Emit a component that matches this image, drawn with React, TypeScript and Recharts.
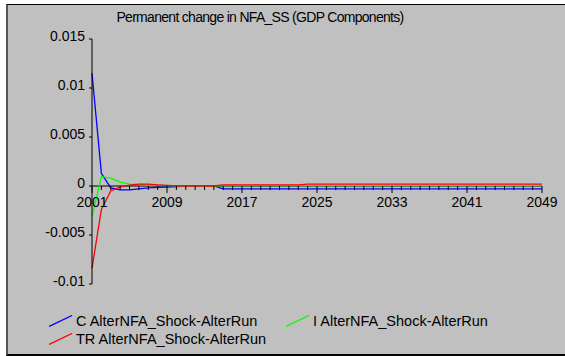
import { LineChart, Line, XAxis, YAxis, ReferenceLine, ReferenceDot, Legend } from 'recharts';

const years: number[] = Array.from({ length: 49 }, (_, i) => 2001 + i);

const cSeries = [
    0.0115, 0.0013, -0.0002, -0.0004, -0.0004, -0.0003, -0.0002, -0.00015, -0.0001, -0.00005,
    0, 0, 0, 0, -0.0003, -0.0003, -0.0003, -0.0003, -0.0003, -0.0003,
    -0.0003, -0.0003, -0.0003, -0.0003, -0.0003, -0.0003, -0.0003, -0.0003, -0.0003, -0.0003,
    -0.0003, -0.0003, -0.0003, -0.0003, -0.0003, -0.0003, -0.0003, -0.0003, -0.0003, -0.0003,
    -0.0003, -0.0003, -0.0003, -0.0003, -0.0003, -0.0003, -0.0003, -0.0003, -0.0003,
];

const iSeries = [
    -0.0031, 0.00095, 0.0008, 0.0004, 0.0002, 0.00015, 0.0001, 0.00006, 0.00003, 0.00001,
    0, 0, 0, 0, 0.00003, 0.00003, 0.00003, 0.00003, 0.00003, 0.00003,
    0.00003, 0.00003, 0.00003, 0.00003, 0.00003, 0.00003, 0.00003, 0.00003, 0.00003, 0.00003,
    0.00003, 0.00003, 0.00003, 0.00003, 0.00003, 0.00003, 0.00003, 0.00003, 0.00003, 0.00003,
    0.00003, 0.00003, 0.00003, 0.00003, 0.00003, 0.00003, 0.00003, 0.00003, 0.00003,
];

const trSeries = [
    -0.0084, -0.0024, -0.0005, -0.0001, 0.00008, 0.0002, 0.0002, 0.00012, 0.00006, 0.00002,
    0, 0, 0, 0, 0.00012, 0.00012, 0.00012, 0.00012, 0.00012, 0.00012,
    0.00012, 0.00012, 0.00012, 0.0002, 0.0002, 0.0002, 0.0002, 0.0002, 0.0002, 0.0002,
    0.0002, 0.0002, 0.0002, 0.0002, 0.0002, 0.0002, 0.0002, 0.0002, 0.0002, 0.0002,
    0.0002, 0.0002, 0.0002, 0.0002, 0.0002, 0.0002, 0.0002, 0.0002, 0.0002,
];

const yTicks = [-0.01, -0.005, 0, 0.005, 0.01, 0.015];
const xLabelYears = [2001, 2009, 2017, 2025, 2033, 2041, 2049];

const seriesInfo = [
    { key: 'c', name: 'C AlterNFA_Shock-AlterRun', color: '#0000FF' },
    { key: 'i', name: 'I AlterNFA_Shock-AlterRun', color: '#00FF00' },
    { key: 'tr', name: 'TR AlterNFA_Shock-AlterRun', color: '#FF0000' },
];

const data = years.map((year, idx) => ({
    year,
    c: cSeries[idx],
    i: iSeries[idx],
    tr: trSeries[idx],
}));

const font = '"Liberation Sans", Arial, sans-serif';

export default function App() {
    return (
        <div style={{ position: 'fixed', left: 0, top: 0, width: 565, height: 356, background: '#fff', fontFamily: font }}>
            <div style={{
                position: 'absolute', left: 6, top: 4, width: 559, height: 352, boxSizing: 'border-box',
                background: '#C0C0C0', borderTop: '1px solid #000', borderLeft: '2px solid #555', borderBottom: '2px solid #000',
            }} />
            <div style={{ position: 'absolute', left: 60, top: 9, width: 400, textAlign: 'center', fontSize: 14, color: '#000', letterSpacing: -0.7 }}>
                Permanent change in NFA_SS (GDP Components)
            </div>
            <div style={{ position: 'absolute', left: 0, top: 0 }}>
                <LineChart width={565} height={356} data={data} margin={{ top: 39, right: 23, bottom: 72, left: 32 }}>
                    <XAxis dataKey="year" type="number" domain={[2001, 2049]} hide />
                    <YAxis
                        type="number"
                        domain={[-0.01, 0.015]}
                        ticks={yTicks}
                        width={60}
                        interval={0}
                        axisLine={{ stroke: '#000' }}
                        tickLine={{ stroke: '#000' }}
                        tickSize={3}
                        tickMargin={4}
                        tick={{ fill: '#000', fontSize: 14, fontFamily: font, dy: -3 }}
                        tickFormatter={(v: number) => String(v)}
                    />
                    <ReferenceLine y={0} stroke="#000" ifOverflow="extendDomain" />
                    {years.map((yr) => (
                        <ReferenceDot
                            key={yr}
                            x={yr}
                            y={0}
                            ifOverflow="visible"
                            shape={(props: any) => {
                                const major = xLabelYears.includes(yr);
                                return (
                                    <g>
                                        <line x1={props.cx} x2={props.cx} y1={props.cy} y2={props.cy + (major ? 7 : 4)} stroke="#000" />
                                        {major && (
                                            <text x={props.cx} y={props.cy + 21} textAnchor="middle" fontSize={14} fontFamily={font} fill="#000">
                                                {yr}
                                            </text>
                                        )}
                                    </g>
                                );
                            }}
                        />
                    ))}
                    {seriesInfo.map((s) => (
                        <Line
                            key={s.key}
                            type="linear"
                            dataKey={s.key}
                            name={s.name}
                            stroke={s.color}
                            strokeWidth={1.3}
                            dot={false}
                            isAnimationActive={false}
                        />
                    ))}
                    <Legend
                        layout="horizontal"
                        verticalAlign="middle"
                        wrapperStyle={{ left: 49, top: 312, width: 500 }}
                        content={() => (
                            <div style={{ display: 'grid', gridTemplateColumns: '237px 237px', rowGap: 1, fontFamily: font }}>
                                {seriesInfo.map((s) => (
                                    <div key={s.key} style={{ display: 'flex', alignItems: 'center', height: 17 }}>
                                        <svg width={24} height={12} style={{ flexShrink: 0 }}>
                                            <line x1={0} y1={11.5} x2={23} y2={0.5} stroke={s.color} strokeWidth={1.3} />
                                        </svg>
                                        <span style={{ fontSize: 14.5, color: '#000', marginLeft: 3, whiteSpace: 'nowrap' }}>{s.name}</span>
                                    </div>
                                ))}
                            </div>
                        )}
                    />
                </LineChart>
            </div>
        </div>
    );
}
